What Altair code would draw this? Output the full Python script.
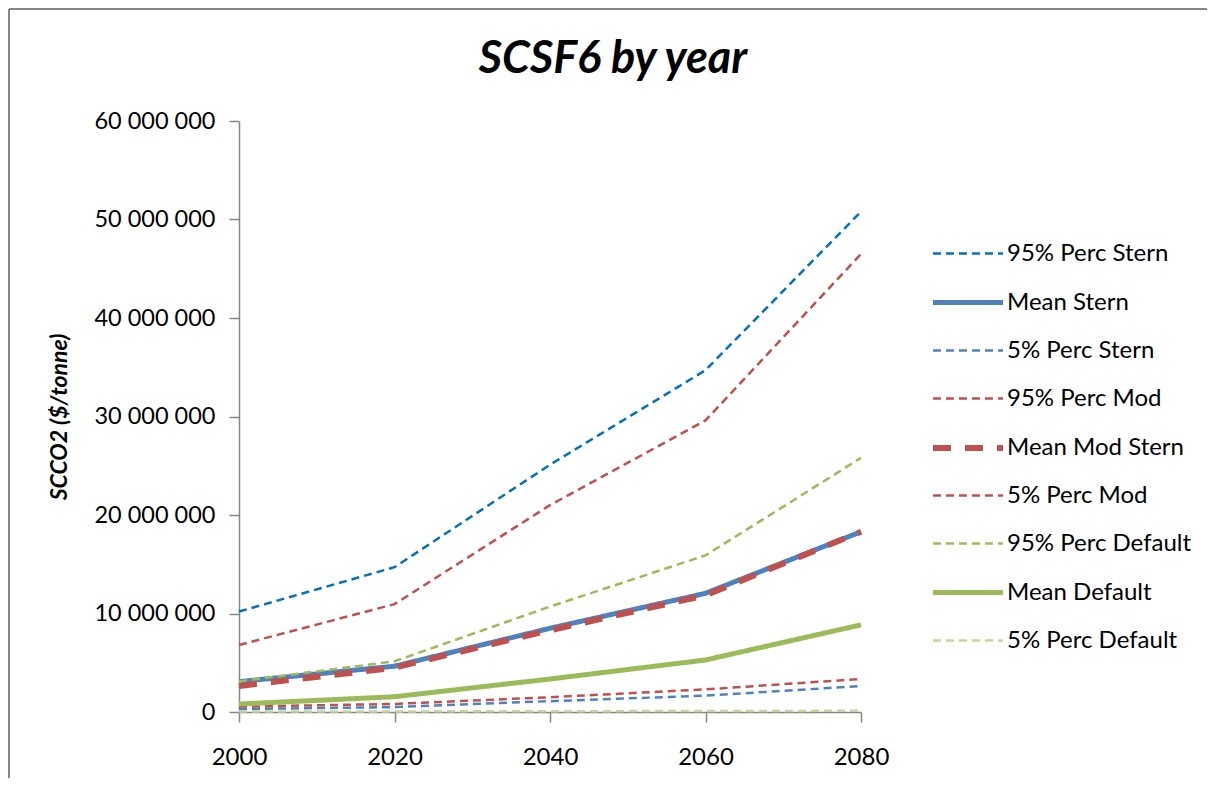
import altair as alt
import pandas as pd

years = [2000, 2020, 2040, 2060, 2080]
series_names = [
    "95% Perc Stern", "Mean Stern", "5% Perc Stern",
    "95% Perc Mod", "Mean Mod Stern", "5% Perc Mod",
    "95% Perc Default", "Mean Default", "5% Perc Default",
]
p95_stern = [10200000, 14700000, 25100000, 34700000, 50800000]
mean_stern = [3080000, 4650000, 8500000, 12050000, 18300000]
p5_stern = [300000, 500000, 1100000, 1660000, 2640000]
p95_mod = [6800000, 10950000, 21000000, 29600000, 46500000]
mean_mod = [2640000, 4500000, 8300000, 11850000, 18300000]
p5_mod = [540000, 820000, 1500000, 2300000, 3350000]
p95_def = [3100000, 5150000, 10700000, 15900000, 25800000]
mean_def = [810000, 1550000, 3350000, 5280000, 8850000]
p5_def = [40000, 60000, 80000, 100000, 120000]

values = [p95_stern, mean_stern, p5_stern, p95_mod, mean_mod, p5_mod,
          p95_def, mean_def, p5_def]

colors = ["#0070C0", "#4F81BD", "#4F81BD", "#C0504D", "#C0504D", "#C0504D",
          "#9BBB59", "#9BBB59", "#C3D69B"]
thin = [8, 5]
dashes = [thin, [1, 0], thin, thin, [18, 14], thin, thin, [1, 0], thin]
widths = [2.5, 5, 2.5, 2.5, 6, 2.5, 2.5, 5, 2.5]

rows = []
for name, vals in zip(series_names, values):
    for yr, v in zip(years, vals):
        rows.append({"year": yr, "value": v, "series": name})
df = pd.DataFrame(rows)

font = "Lato"
legend = alt.Legend(
    title=None, orient="none", legendX=702, legendY=107, padding=0,
    symbolType="M-1.46,0H1.46", symbolSize=2304, labelFont=font, labelFontSize=24,
    labelColor="#000000", labelOffset=12, rowPadding=10, labelLimit=400,
)

lines = alt.Chart(df).mark_line().encode(
    x=alt.X("year:Q", scale=alt.Scale(domain=[2000, 2080], nice=False),
            axis=alt.Axis(values=years, format="d", title=None, labelFlush=False,
                          labelPadding=23, tickSize=10)),
    y=alt.Y("value:Q", scale=alt.Scale(domain=[0, 60000000], nice=False),
            axis=alt.Axis(values=[0, 10000000, 20000000, 30000000, 40000000, 50000000, 60000000],
                          labelExpr="replace(format(datum.value, ','), /,/g, ' ')",
                          title="SCCO2 ($/tonne)", titleFont=font, titleFontSize=23,
                          titleFontStyle="italic", titleFontWeight="bold",
                          titlePadding=22, labelPadding=14, tickSize=10, labelFontSize=23.5)),
    color=alt.Color("series:N", scale=alt.Scale(domain=series_names, range=colors), legend=legend),
    strokeDash=alt.StrokeDash("series:N", scale=alt.Scale(domain=series_names, range=dashes), legend=legend),
    strokeWidth=alt.StrokeWidth("series:N", scale=alt.Scale(type="ordinal", domain=series_names, range=widths), legend=legend),
)

frame_df = pd.DataFrame({"f": [0]})
frame_top = alt.Chart(frame_df).mark_rule(color="#868686", strokeWidth=2).encode(
    x=alt.value(-230), x2=alt.value(1100), y=alt.value(-112)
)
frame_left = alt.Chart(frame_df).mark_rule(color="#868686", strokeWidth=2).encode(
    x=alt.value(-230), y=alt.value(-112), y2=alt.value(800)
)

chart = alt.layer(frame_top, frame_left, lines).properties(
    width=622, height=591,
    title=alt.TitleParams("SCSF6 by year", font=font, fontSize=45, fontStyle="italic",
                          fontWeight="bold", color="#000000", anchor="middle", frame="group",
                          dx=63, dy=101, offset=27),
    autosize=alt.AutoSizeParams(type="none"),
    padding={"left": 231, "top": 113, "right": 346, "bottom": 66},
).configure_view(stroke=None).configure_axis(
    grid=False, domainColor="#868686", tickColor="#868686", domainWidth=1.5, tickWidth=1.5,
    labelFont=font, labelFontSize=24, labelColor="#000000", titleColor="#000000",
)

chart.save("out.html", embed_options={"renderer": "svg", "actions": False})
